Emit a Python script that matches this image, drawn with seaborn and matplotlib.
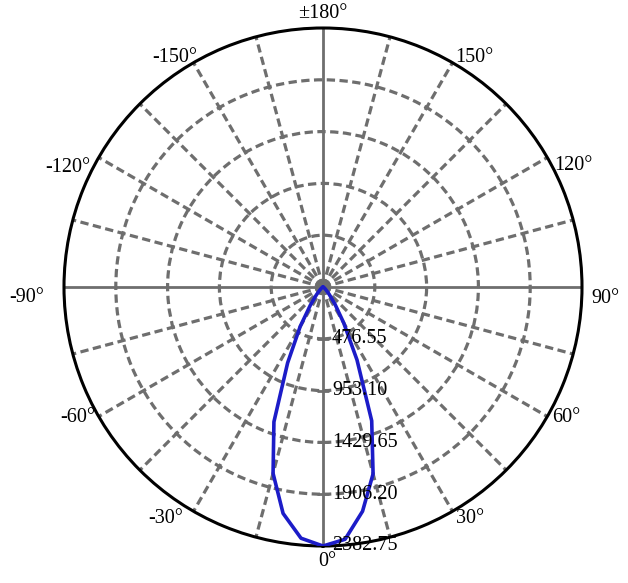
import numpy as np
import pandas as pd
import matplotlib
matplotlib.use("Agg")
import matplotlib.pyplot as plt
import seaborn as sns

# ---- data ----
angles_deg = [-180, -90, -85, -80, -75, -70, -65, -60, -55, -50, -45, -40, -35, -30, -25, -20, -15, -10, -5,
              0, 5, 10, 15, 20, 25, 30, 35, 40, 45, 50, 55, 60, 65, 70, 75, 80, 85, 90, 180]
intensity = [0, 1, 2, 3, 4, 5, 7, 10, 15, 25, 45, 95, 200, 420, 770, 1320, 1775, 2115, 2320,
             2382.75, 2330, 2095, 1780, 1310, 740, 380, 190, 90, 45, 25, 15, 10, 7, 5, 4, 3, 2, 1, 0]
r_ticks = [476.55, 953.10, 1429.65, 1906.20, 2382.75]
r_tick_labels = ["476.55", "953.10", "1429.65", "1906.20", "2382.75"]
theta_label_deg = [0, 30, 60, 90, 120, 150, 180, -150, -120, -90, -60, -30]
theta_label_txt = ["0°", "30°", "60°", "90°", "120°", "150°", "±180°", "-150°", "-120°", "-90°", "-60°", "-30°"]

df = pd.DataFrame({"theta": np.deg2rad(angles_deg), "r": intensity})

sns.set_style("white")
plt.rcParams["font.family"] = ["Liberation Serif", "DejaVu Serif"]

fig = plt.figure(figsize=(6.28, 5.83), dpi=100)
ax = fig.add_axes([64 / 628, (583 - 546) / 583, 518 / 628, 518 / 583], projection="polar")
ax.set_theta_zero_location("S")
ax.set_theta_direction(1)
rmax = r_ticks[-1]
ax.set_ylim(0, rmax)

grid_col = "#6e6e6e"
grid_lw = 2.3
dash = (0, (2.6, 1.4))
ax.grid(False)
ax.set_xticks([])
ax.set_yticks([])

# radial spokes every 15 degrees
for a in range(0, 360, 15):
    if a % 90 == 0:
        ax.axvline(np.deg2rad(a), color=grid_col, lw=2.0, ls="-", zorder=1)
    else:
        ax.axvline(np.deg2rad(a), color=grid_col, lw=grid_lw, ls=dash, zorder=1)
# circles
for rv in r_ticks[:-1]:
    ax.axhline(rv, color=grid_col, lw=grid_lw, ls=dash, zorder=1)

ax.spines["polar"].set_color("black")
ax.spines["polar"].set_linewidth(2.2)

# tick marks on the 0-degree axis
ax.plot([0] * (len(r_ticks) - 1), r_ticks[:-1], ls="none", marker="_", ms=9, mew=2.0,
        color=grid_col, zorder=2, clip_on=False)

sns.lineplot(data=df, x="theta", y="r", ax=ax, sort=False, estimator=None,
             color="#1c1cc8", lw=2.6, zorder=3)
ax.set_xlabel("")
ax.set_ylabel("")

fs = 14.5
for rv, lab in zip(r_ticks, r_tick_labels):
    ax.annotate(lab, xy=(0, rv), xytext=(9, 0), textcoords="offset pixels",
                ha="left", va="center", fontsize=fs, color="black", zorder=4,
                annotation_clip=False)

offsets = {0: (4, 16), 30: (18, 7), 60: (19, 1), 90: (23, 11), 120: (26, 8), 150: (22, -5),
           180: (0, -14), -150: (-19, -5), -120: (-31, 10), -90: (-37, 11), -60: (-21, 1), -30: (-28, 7)}
for a, t in zip(theta_label_deg, theta_label_txt):
    dx, dy = offsets[a]
    ax.annotate(t, xy=(np.deg2rad(a), rmax), xytext=(dx, -dy), textcoords="offset pixels",
                ha="center", va="center", fontsize=fs, color="black", annotation_clip=False)

fig.savefig("out.png", dpi=100)
